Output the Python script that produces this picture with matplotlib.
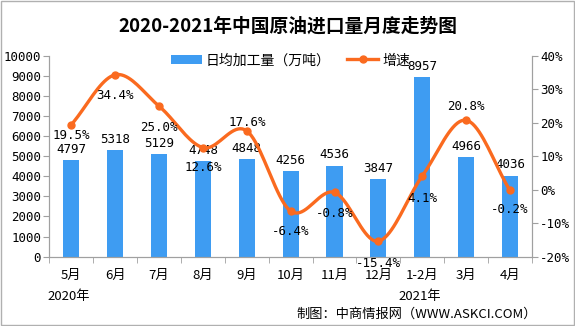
import numpy as np
import matplotlib.pyplot as plt
from matplotlib.patches import Rectangle

plt.rcParams['font.family'] = ['Noto Sans CJK SC', 'DejaVu Sans']

months = ["5月", "6月", "7月", "8月", "9月", "10月", "11月", "12月", "1-2月", "3月", "4月"]
output = [4797, 5318, 5129, 4748, 4848, 4256, 4536, 3847, 8957, 4966, 4036]
growth = [19.5, 34.4, 25.0, 12.6, 17.6, -6.4, -0.8, -15.4, 4.1, 20.8, -0.2]
years = ["2020年", "2021年"]

# label offsets (points) for growth labels, negative = below the marker
g_off = [-8, -15, -15, -14, 6, -15, -15, -16, -16, 10, -14]

bar_c = "#3e9cf2"
line_c = "#fa6a1f"
grid_c = "#a0a0a0"
num_font = ['DejaVu Sans Mono', 'Noto Sans CJK SC']


def smooth(x, y, n=20):
    # catmull-rom curve through the points
    x = np.asarray(x, float)
    y = np.asarray(y, float)
    px = np.concatenate([[2 * x[0] - x[1]], x, [2 * x[-1] - x[-2]]])
    py = np.concatenate([[2 * y[0] - y[1]], y, [2 * y[-1] - y[-2]]])
    xs, ys = [], []
    t = np.linspace(0, 1, n, endpoint=False)
    for i in range(1, len(px) - 2):
        for p, out in ((px, xs), (py, ys)):
            p0, p1, p2, p3 = p[i - 1], p[i], p[i + 1], p[i + 2]
            out.extend(0.5 * (2 * p1 + (-p0 + p2) * t
                              + (2 * p0 - 5 * p1 + 4 * p2 - p3) * t ** 2
                              + (-p0 + 3 * p1 - 3 * p2 + p3) * t ** 3))
    xs.append(x[-1])
    ys.append(y[-1])
    return np.array(xs), np.array(ys)


fig = plt.figure(figsize=(5.75, 3.26), dpi=100)
ax = fig.add_axes([0.086, 0.213, 0.839, 0.615])
ax2 = ax.twinx()

xpos = np.arange(len(months))
ax.bar(xpos, output, width=0.37, color=bar_c, label="日均加工量（万吨）", zorder=2)
for x, v in zip(xpos, output):
    ax.annotate(str(v), (x, v), xytext=(0, 3), textcoords="offset points",
                ha="center", va="bottom", fontsize=9, family=num_font)

sx, sy = smooth(xpos, growth)
ax2.plot(sx, sy, color=line_c, lw=2.4, zorder=3)
ax2.plot(xpos, growth, "o", color=line_c, ms=5, zorder=4)
for x, v, o in zip(xpos, growth, g_off):
    ax2.annotate(f"{v:.1f}%", (x, v), xytext=(0, o), textcoords="offset points",
                 ha="center", va="center", fontsize=9, family=num_font)

ax.set_xlim(-0.5, len(months) - 0.5)
ax.set_ylim(0, 10000)
ax.set_yticks(np.arange(0, 10001, 1000))
ax2.set_ylim(-20, 40)
ax2.set_yticks(np.arange(-20, 41, 10))
ax2.set_yticklabels([f"{t}%" for t in range(-20, 41, 10)])

ax.set_xticks(xpos)
ax.set_xticklabels(months, fontsize=9.5)
ax.set_xticks(np.arange(-0.5, len(months)), minor=True)
ax.tick_params(axis="x", which="major", length=0, pad=9)
ax.tick_params(axis="x", which="minor", length=4, color=grid_c)
ax.tick_params(axis="y", length=4, color=grid_c, labelsize=9, pad=2)
ax2.tick_params(axis="y", length=4, color=grid_c, labelsize=9, pad=2)
for lab in ax.get_yticklabels() + ax2.get_yticklabels():
    lab.set_family(num_font)

for a in (ax, ax2):
    a.spines["top"].set_visible(False)
    for s in ("left", "right", "bottom"):
        a.spines[s].set_color(grid_c)

fig.text(0.12, 0.089, years[0], ha="center", va="center", fontsize=9.5)
fig.text(0.73, 0.089, years[1], ha="center", va="center", fontsize=9.5)

fig.text(0.5, 0.921, "2020-2021年中国原油进口量月度走势图", ha="center", va="center",
         fontsize=13.5, fontweight="bold")
fig.text(0.934, 0.016, "制图：中商情报网（WWW.ASKCI.COM）", ha="right", va="bottom",
         fontsize=9.5)

h1, l1 = ax.get_legend_handles_labels()
h2 = plt.Line2D([], [], color=line_c, lw=2.4, marker="o", ms=5)
fig.legend(h1 + [h2], l1 + ["增速"], loc="center", bbox_to_anchor=(0.505, 0.815),
           ncol=2, frameon=False, fontsize=10, handlelength=2.2,
           columnspacing=1.2, handletextpad=0.3)

fig.add_artist(Rectangle((0.001, 0.002), 0.997, 0.995, transform=fig.transFigure,
                         fill=False, edgecolor="#b0b0b0", lw=1))

fig.savefig("out.png", dpi=100)
